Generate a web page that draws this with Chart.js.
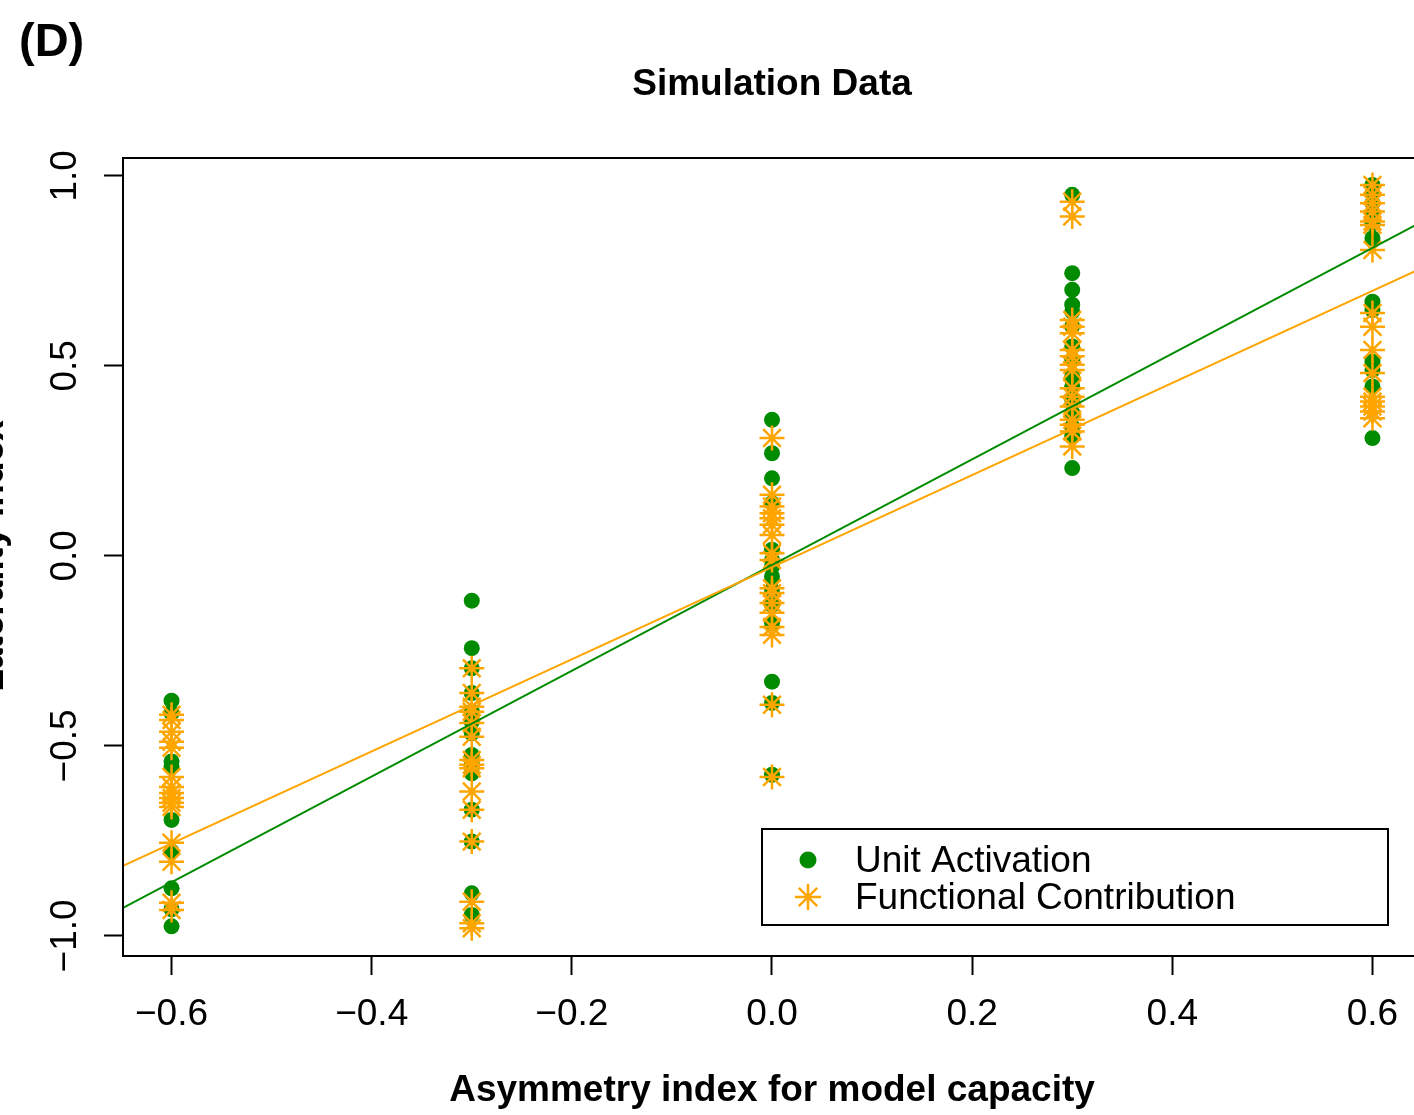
<!DOCTYPE html>
<html>
<head>
<meta charset="utf-8">
<script src="https://cdn.jsdelivr.net/npm/chart.js@4.4.1/dist/chart.umd.min.js"></script>
<style>
  html, body { margin: 0; padding: 0; background: #ffffff; overflow: hidden; }
  #wrap { width: 1440px; height: 1115px; }
</style>
</head>
<body>
<div id="wrap"><canvas id="c" width="1440" height="1115"></canvas></div>
<script>
// ---- data ----
const groups = [-0.6, -0.3, 0.0, 0.3, 0.6];

// Unit Activation (green dots), one list per asymmetry group
const unitActivation = [
  [-0.381, -0.414, -0.541, -0.554, -0.695, -0.778, -0.875, -0.930, -0.975],
  [-0.118, -0.243, -0.296, -0.361, -0.410, -0.436, -0.467, -0.524, -0.541, -0.572, -0.668, -0.752, -0.888, -0.945],
  [0.358, 0.270, 0.204, 0.139, 0.016, -0.011, -0.028, -0.054, -0.089, -0.129, -0.176, -0.331, -0.387, -0.576],
  [0.950, 0.744, 0.700, 0.661, 0.643, 0.604, 0.551, 0.516, 0.472, 0.446, 0.411, 0.376, 0.340, 0.314, 0.231],
  [0.976, 0.954, 0.928, 0.902, 0.875, 0.836, 0.669, 0.647, 0.511, 0.489, 0.446, 0.310]
];

// Functional Contribution (orange asterisks)
const functionalContribution = [
  [-0.418, -0.432, -0.463, -0.489, -0.505, -0.582, -0.608, -0.624, -0.637, -0.650, -0.661, -0.755, -0.805, -0.913, -0.932],
  [-0.296, -0.361, -0.397, -0.410, -0.440, -0.476, -0.537, -0.550, -0.559, -0.620, -0.668, -0.752, -0.910, -0.967, -0.980],
  [0.310, 0.161, 0.130, 0.112, 0.099, 0.082, 0.055, 0.007, -0.011, -0.085, -0.098, -0.124, -0.150, -0.187, -0.208, -0.392, -0.582],
  [0.932, 0.893, 0.621, 0.603, 0.586, 0.542, 0.525, 0.503, 0.489, 0.441, 0.419, 0.393, 0.358, 0.345, 0.327, 0.288],
  [0.976, 0.950, 0.928, 0.906, 0.880, 0.871, 0.805, 0.639, 0.603, 0.542, 0.481, 0.419, 0.406, 0.393, 0.380, 0.362]
];

// regression lines [intercept, slope]
const unitFit = [-0.024, 1.391];
const funcFit = [-0.030, 1.212];

const xTicks = [-0.6, -0.4, -0.2, 0.0, 0.2, 0.4, 0.6];
const yTicks = [-1.0, -0.5, 0.0, 0.5, 1.0];
const xRange = [-0.6485, 0.6525];
const yRange = [-1.053, 1.047];

const GREEN = '#008B00';
const ORANGE = '#FFA500';
const FONT = '"Liberation Sans", Arial, Helvetica, sans-serif';

Chart.defaults.font.family = FONT;
Chart.defaults.color = '#000000';

function toPoints(lists) {
  const out = [];
  lists.forEach((vals, i) => vals.forEach(v => out.push({ x: groups[i], y: v })));
  return out;
}
function fitLine(f) {
  return xRange.map(x => ({ x: x, y: f[0] + f[1] * x }));
}
function fmt(v) {
  const s = Math.abs(v).toFixed(1);
  return v < 0 ? '\u2212' + s : s;
}

// frame, titles and legend in R style
const decor = {
  id: 'decor',
  afterDatasetsDraw(chart) {
    const ctx = chart.ctx, a = chart.chartArea;
    ctx.save();
    ctx.strokeStyle = '#000';
    ctx.lineWidth = 2;
    ctx.strokeRect(a.left, a.top, a.right - a.left, a.bottom - a.top);

    ctx.fillStyle = '#000';
    ctx.textBaseline = 'alphabetic';
    ctx.font = 'bold 47px ' + FONT;
    ctx.textAlign = 'left';
    ctx.fillText('(D)', 19, 56);

    ctx.font = 'bold 37px ' + FONT;
    ctx.textAlign = 'center';
    ctx.fillText('Simulation Data', 772, 95);
    ctx.fillText('Asymmetry index for model capacity', 772, 1101);

    ctx.save();
    ctx.translate(3, 556);
    ctx.rotate(-Math.PI / 2);
    ctx.fillText('Laterality index', 0, 0);
    ctx.restore();

    // legend
    ctx.fillStyle = '#fff';
    ctx.fillRect(762, 829, 626, 96);
    ctx.strokeRect(762, 829, 626, 96);
    ctx.fillStyle = GREEN;
    ctx.beginPath(); ctx.arc(808, 860, 8.5, 0, Math.PI * 2); ctx.fill();
    ctx.strokeStyle = ORANGE;
    ctx.lineWidth = 2.5;
    Chart.helpers.drawPoint(ctx, { pointStyle: 'star', radius: 13, borderWidth: 2.5 }, 808, 897);
    ctx.fillStyle = '#000';
    ctx.font = '37px ' + FONT;
    ctx.textAlign = 'left';
    ctx.textBaseline = 'middle';
    ctx.fillText('Unit Activation', 855, 862);
    ctx.fillText('Functional Contribution', 855, 899);
    ctx.restore();
  }
};

new Chart(document.getElementById('c'), {
  type: 'scatter',
  data: {
    datasets: [
      {
        label: 'Unit Activation',
        data: toPoints(unitActivation),
        order: 3,
        pointStyle: 'circle',
        pointRadius: 8,
        pointBorderWidth: 0,
        backgroundColor: GREEN,
        borderColor: GREEN
      },
      {
        label: 'Functional Contribution',
        data: toPoints(functionalContribution),
        order: 2,
        pointStyle: 'star',
        pointRadius: 12.5,
        pointBorderWidth: 2.5,
        backgroundColor: ORANGE,
        borderColor: ORANGE
      },
      {
        label: 'unit fit',
        data: fitLine(unitFit),
        order: 1,
        showLine: true,
        pointRadius: 0,
        borderColor: GREEN,
        borderWidth: 2
      },
      {
        label: 'func fit',
        data: fitLine(funcFit),
        order: 0,
        showLine: true,
        pointRadius: 0,
        borderColor: ORANGE,
        borderWidth: 2
      }
    ]
  },
  options: {
    responsive: false,
    animation: false,
    layout: { padding: { left: 0, top: 158, right: 15, bottom: 0 } },
    plugins: { legend: { display: false }, title: { display: false }, tooltip: { enabled: false } },
    scales: {
      x: {
        type: 'linear',
        min: xRange[0], max: xRange[1],
        afterBuildTicks: s => { s.ticks = xTicks.map(v => ({ value: v })); },
        afterFit: s => { s.height = 159; },
        grid: { drawOnChartArea: false, drawTicks: true, tickLength: 19, tickWidth: 2, tickColor: '#000' },
        border: { display: false },
        ticks: { callback: v => fmt(v), font: { size: 37 }, color: '#000', padding: 18, maxRotation: 0, minRotation: 0, autoSkip: false }
      },
      y: {
        type: 'linear',
        min: yRange[0], max: yRange[1],
        afterBuildTicks: s => { s.ticks = yTicks.map(v => ({ value: v })); },
        afterFit: s => { s.width = 123; },
        grid: { drawOnChartArea: false, drawTicks: true, tickLength: 19, tickWidth: 2, tickColor: '#000' },
        border: { display: false },
        ticks: { callback: v => fmt(v), font: { size: 37 }, color: '#000', padding: 2, minRotation: 90, maxRotation: 90, crossAlign: 'center', autoSkip: false }
      }
    }
  },
  plugins: [decor]
});
</script>
</body>
</html>
